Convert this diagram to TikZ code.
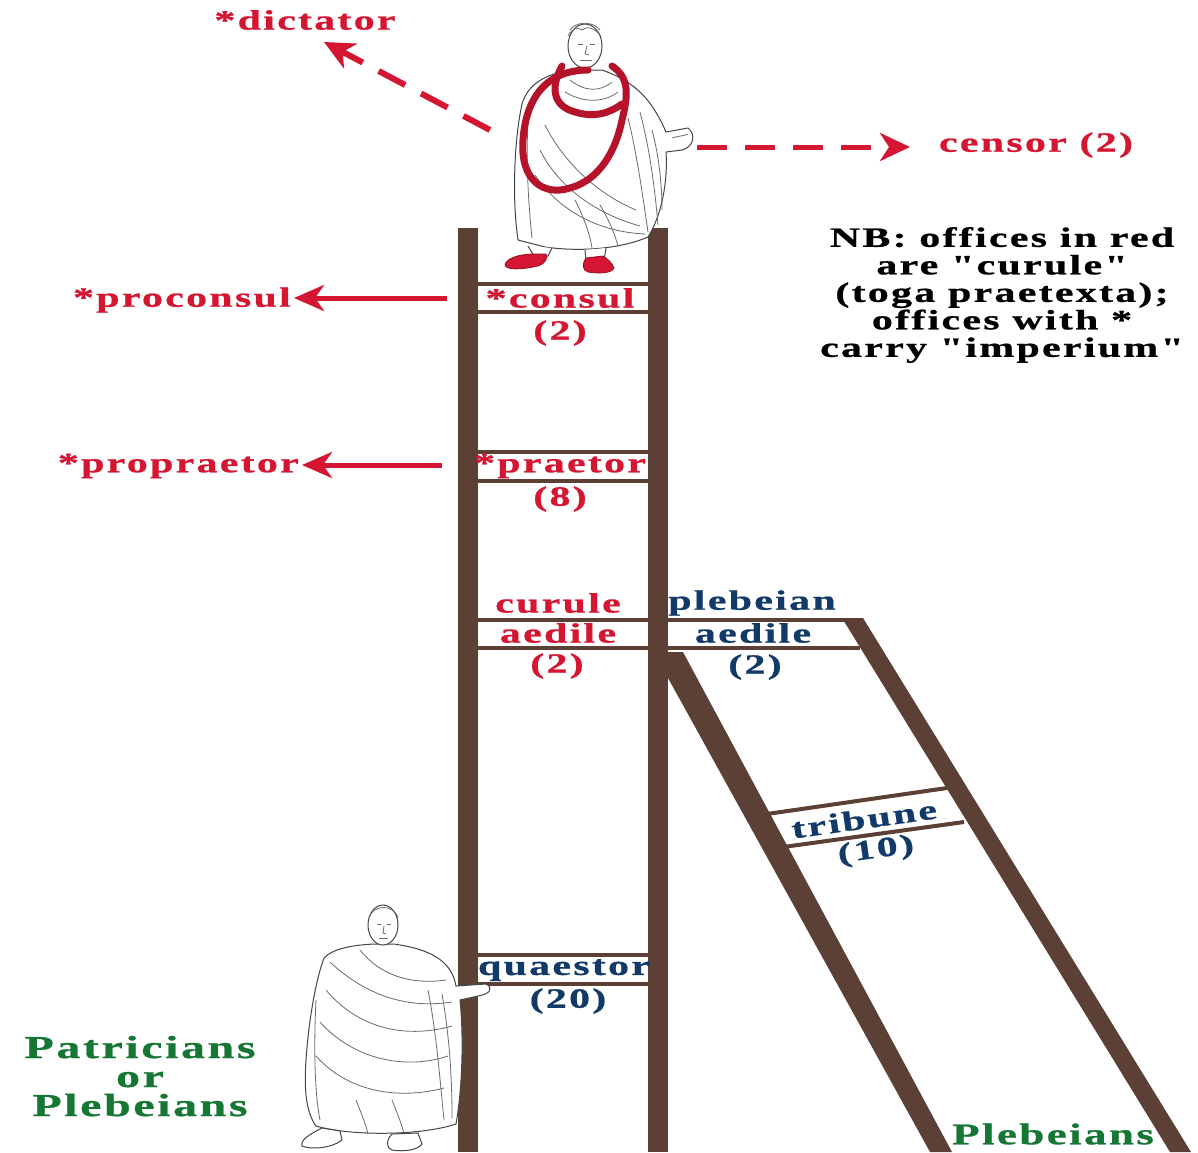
\documentclass[tikz,border=0pt]{standalone}
\usepackage{fontspec}
\setmainfont{Liberation Serif}
\newfontfamily\lab[FakeStretch=1.5,LetterSpace=8,FakeBold=0.8]{Liberation Serif Bold}
\usetikzlibrary{arrows.meta}

\definecolor{rail}{RGB}{92,64,54}
\definecolor{curule}{RGB}{212,22,50}
\definecolor{pleb}{RGB}{18,58,105}
\definecolor{grn}{RGB}{22,118,52}
\definecolor{ink}{RGB}{70,70,70}

\tikzset{
  lbl/.style={font=\lab\fontsize{28}{29}\selectfont, inner sep=0pt, anchor=center},
  redlbl/.style={lbl, text=curule},
  bluelbl/.style={lbl, text=pleb},
  greenlbl/.style={font=\lab\fontsize{32}{29}\selectfont, inner sep=0pt, text=grn, anchor=base},
  rung/.style={draw=rail, line width=4pt},
  railpart/.style={fill=rail, draw=none},
  solidarrow/.style={draw=curule, line width=5pt, -{Stealth[length=30pt,width=26pt,inset=9pt]}},
  dasharrow/.style={draw=curule, line width=6pt, dash pattern=on 30pt off 18pt, -{Stealth[length=30pt,width=28pt,inset=9pt]}},
  figure/.style={draw=ink, line width=1pt, fill=white},
  fold/.style={draw=ink!80, line width=0.8pt},
  band/.style={draw=curule!85!black, line width=7pt, line cap=round},
  shoe/.style={fill=curule, draw=curule!70!black, line width=0.8pt}
}

\begin{document}
\begin{tikzpicture}[x=1pt,y=-1pt]
\useasboundingbox (0,0) rectangle (1198,1152);

% ---------- main ladder ----------
\fill[railpart] (458,228) rectangle (478,1152);
\fill[railpart] (648,228) rectangle (668,1152);

% rungs of the main ladder
\draw[rung] (478,284) -- (648,284);
\draw[rung] (478,312) -- (648,312);
\draw[rung] (478,452) -- (648,452);
\draw[rung] (478,481) -- (648,481);
\draw[rung] (478,620) -- (648,620);
\draw[rung] (478,648) -- (648,648);
\draw[rung] (478,955) -- (648,955);
\draw[rung] (478,984) -- (648,984);

% ---------- leaning ladder ----------
\fill[railpart] (668,678) -- (668,652) -- (683,652) -- (952,1152) -- (930,1152) -- cycle;
\fill[railpart] (842,618) -- (863,618) -- (1191,1152) -- (1170,1152) -- cycle;
\draw[rung] (668,620) -- (850,620);
\draw[rung] (668,648) -- (860,648);
\draw[rung] (760,815) -- (947,788);
\draw[rung] (776,848) -- (964,822);

% ---------- standing figure at the top ----------
% toga
\draw[figure] (572,70) .. controls (545,74) and (528,84) .. (522,104)
  .. controls (514,140) and (512,200) .. (518,240) -- (545,247)
  .. controls (580,252) and (620,249) .. (648,237)
  .. controls (662,215) and (668,180) .. (666,152) -- (682,150)
  .. controls (694,147) and (696,134) .. (688,128) -- (666,132)
  .. controls (652,100) and (636,82) .. (602,70) -- cycle;
% folds
\draw[fold] (540,150) .. controls (560,190) and (600,215) .. (640,226);
\draw[fold] (535,175) .. controls (560,212) and (600,232) .. (645,234);
\draw[fold] (545,125) .. controls (565,165) and (600,195) .. (636,210);
\draw[fold] (628,118) .. controls (636,150) and (642,190) .. (648,232);
\draw[fold] (640,112) .. controls (650,150) and (655,190) .. (658,225);
\draw[fold] (652,130) .. controls (660,160) and (662,190) .. (662,210);
\draw[fold] (528,120) .. controls (526,160) and (528,200) .. (532,238);
\draw[fold] (575,200) .. controls (585,220) and (590,235) .. (592,248);
\draw[fold] (600,205) .. controls (610,222) and (615,235) .. (618,246);
\draw[fold] (672,138) .. controls (678,136) and (684,136) .. (688,134);
\draw[fold] (570,80) .. controls (585,92) and (600,92) .. (612,82);
\draw[fold] (565,92) .. controls (585,104) and (605,102) .. (618,92);
% legs below the hem
\draw[figure] (528,246) -- (534,256) -- (548,256) -- (552,248);
\draw[figure] (585,250) -- (586,260) -- (604,260) -- (606,248);
% shoes
\draw[shoe] (534,254) .. controls (520,254) and (506,258) .. (505,265)
  .. controls (506,270) and (520,270) .. (538,266) .. controls (546,263) and (548,258) .. (546,254) -- cycle;
\draw[shoe] (586,258) .. controls (582,264) and (582,270) .. (588,272)
  .. controls (600,274) and (612,273) .. (614,268) .. controls (612,262) and (606,258) .. (603,256) -- cycle;
% head
\draw[figure] (585,46) ellipse[x radius=17, y radius=22];
\draw[fold] (570,30) .. controls (575,22) and (592,20) .. (600,30);
\draw[fold] (568,36) .. controls (572,28) and (578,27) .. (582,30) .. controls (586,26) and (594,27) .. (601,36);
\draw[fold] (578,44) -- (583,44);
\draw[fold] (590,44) -- (595,44);
\draw[fold] (587,46) -- (585,54) -- (589,55);
\draw[fold] (580,60) -- (592,60);
% red border of the toga
\draw[band] (588,70) .. controls (548,70) and (526,96) .. (523,140)
  .. controls (520,182) and (545,196) .. (570,188)
  .. controls (600,180) and (616,150) .. (622,120)
  .. controls (628,96) and (630,78) .. (612,66);
\draw[band] (562,66) .. controls (550,88) and (553,106) .. (575,112)
  .. controls (594,118) and (610,113) .. (622,104);

% ---------- standing figure at the foot ----------
\draw[figure] (374,944) .. controls (352,945) and (332,949) .. (324,958)
  .. controls (314,985) and (308,1030) .. (306,1060)
  .. controls (304,1090) and (306,1112) .. (316,1126)
  .. controls (350,1136) and (420,1136) .. (456,1124)
  .. controls (462,1090) and (464,1040) .. (460,1000) -- (478,996)
  .. controls (490,994) and (494,988) .. (486,984) -- (456,986)
  .. controls (452,964) and (436,950) .. (394,944) -- cycle;
% diagonal drape of the toga
\draw[fold] (330,962) .. controls (360,990) and (400,1010) .. (452,1002);
\draw[fold] (326,990) .. controls (356,1026) and (402,1040) .. (452,1026);
\draw[fold] (320,1022) .. controls (354,1060) and (406,1070) .. (448,1056);
\draw[fold] (316,1056) .. controls (348,1092) and (398,1100) .. (444,1088);
\draw[fold] (360,950) .. controls (380,975) and (410,985) .. (446,980);
\draw[fold] (428,990) .. controls (436,1030) and (440,1080) .. (444,1120);
\draw[fold] (442,994) .. controls (450,1040) and (452,1080) .. (452,1118);
\draw[fold] (316,1000) .. controls (314,1040) and (314,1090) .. (320,1120);
\draw[fold] (356,1100) .. controls (362,1115) and (366,1125) .. (368,1134);
\draw[fold] (392,1100) .. controls (398,1115) and (402,1125) .. (404,1134);
% feet
\draw[figure] (322,1128) .. controls (310,1134) and (300,1140) .. (302,1146)
  .. controls (312,1150) and (332,1148) .. (342,1140) -- (340,1131) -- cycle;
\draw[figure] (392,1134) .. controls (386,1140) and (386,1148) .. (392,1150)
  .. controls (404,1152) and (418,1150) .. (422,1144) -- (418,1133) -- cycle;
% head
\draw[figure] (383,925) ellipse[x radius=15, y radius=20];
\draw[fold] (369,918) .. controls (372,905) and (394,903) .. (398,918);
\draw[fold] (377,924) -- (381,924);
\draw[fold] (387,924) -- (391,924);
\draw[fold] (384,926) -- (383,933) -- (386,934);
\draw[fold] (379,938) -- (388,938);

% ---------- office labels ----------
\node[redlbl] (consul) at (560,298) {*consul};
\node[redlbl] (consulN) at (560,333) {(2)};
\node[redlbl] (praetor) at (560,466) {*praetor};
\node[redlbl] (praetorN) at (560,499) {(8)};
\node[redlbl] (curA) at (558,603) {curule};
\node[redlbl] (curB) at (558,633) {aedile};
\node[redlbl] (curN) at (557,666) {(2)};
\node[bluelbl] (plebA) at (752,603) {plebeian};
\node[bluelbl] (plebB) at (753,633) {aedile};
\node[bluelbl] (plebN) at (755,667) {(2)};
\node[bluelbl, rotate=8] (trib) at (864,819) {tribune};
\node[bluelbl, rotate=8] (tribN) at (876,851) {(10)};
\node[bluelbl] (quaes) at (564,970) {quaestor};
\node[bluelbl] (quaesN) at (568,1001) {(20)};

% offices outside the ladder
\node[redlbl] (dict) at (305,20) {*dictator};
\node[redlbl] (censor) at (1036,145) {censor (2)};
\node[redlbl, anchor=east] (procons) at (291,300) {*proconsul};
\node[redlbl, anchor=east] (propraet) at (299,466) {*propraetor};

\coordinate (dictfrom) at (490,130);
\coordinate (dictto) at (324,42);
\coordinate (censfrom) at (697,147);
\coordinate (censto) at (910,147);
\coordinate (pcfrom) at (447,298);
\coordinate (pcto) at (294,298);
\coordinate (ppfrom) at (442,465);
\coordinate (ppto) at (302,465);

\draw[dasharrow] (dictfrom) -- (dictto);
\draw[dasharrow, line width=5pt] (censfrom) -- (censto);
\draw[solidarrow] (pcfrom) -- (pcto);
\draw[solidarrow] (ppfrom) -- (ppto);

% ---------- note and groups ----------
\node[font=\lab\fontsize{28}{27.5}\selectfont, align=center, inner sep=0pt] (note) at (1002,295)
  {NB: offices in red\\are "curule"\\(toga praetexta);\\offices with *\\carry "imperium"};
\node[greenlbl] (bothA) at (140,1058) {Patricians};
\node[greenlbl] (bothB) at (140,1087) {or};
\node[greenlbl] (bothC) at (140,1116) {Plebeians};
\node[greenlbl, font=\lab\fontsize{30}{30}\selectfont, anchor=center] (plebs) at (1053,1134) {Plebeians};

\end{tikzpicture}
\end{document}
